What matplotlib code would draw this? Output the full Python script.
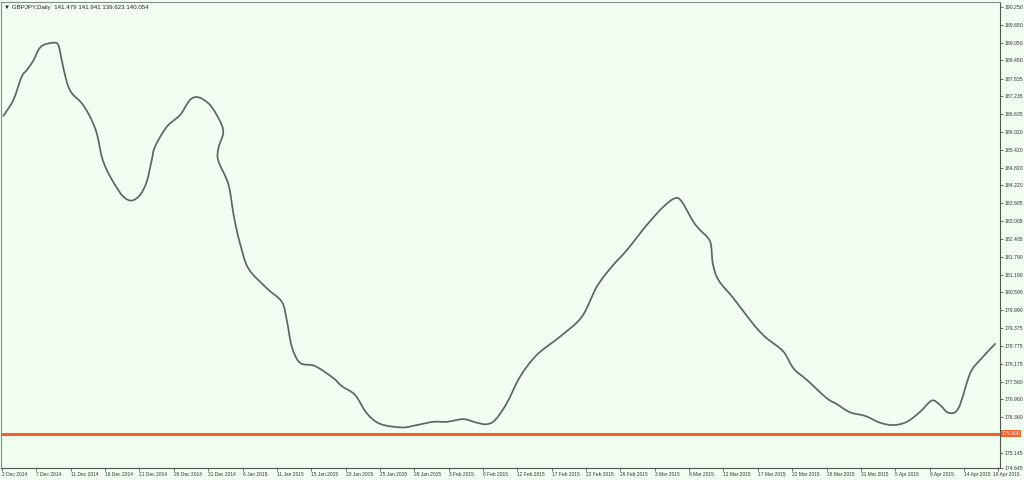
import matplotlib
matplotlib.use("Agg")
import matplotlib.pyplot as plt
from matplotlib.path import Path
from matplotlib.patches import PathPatch
from matplotlib.transforms import ScaledTranslation

# ---- data (bar index, price) ----
bar = [0.15, 1.32, 2.29, 2.88, 3.64, 4.23, 4.81, 5.97, 6.56, 6.95, 7.53, 8.12, 9.28, 10.25,
       11.03, 11.61, 12.19, 13.16, 14.13, 15.10, 16.07, 16.85, 17.43, 17.82, 19.18, 20.73,
       21.89, 22.86, 24.02, 24.80, 25.58, 25.74, 25.19, 25.19, 26.35, 26.93, 27.33, 27.71,
       28.68, 30.82, 32.57, 33.15, 33.74, 34.70, 36.45, 38.58, 39.56, 41.11, 42.47, 44.02,
       46.55, 48.29, 50.23, 51.79, 53.72, 55.28, 56.44, 57.41, 58.77, 60.32, 62.27, 64.98,
       67.51, 69.25, 71.00, 72.75, 75.07, 77.01, 78.37, 79.15, 80.50, 81.28, 82.45, 82.76,
       83.41, 85.16, 87.10, 88.07, 89.05, 90.98, 92.15, 93.71, 96.03, 97.20, 98.75, 100.49,
       102.24, 103.79, 105.35, 106.90, 108.26, 109.22, 110.19, 111.36, 112.72, 113.89, 115.63]
price = [186.57, 187.11, 187.90, 188.12, 188.44, 188.80, 188.97, 189.05, 188.97, 188.46,
         187.73, 187.34, 187.00, 186.54, 185.98, 185.19, 184.74, 184.23, 183.83, 183.70,
         183.89, 184.34, 185.07, 185.53, 186.20, 186.60, 187.11, 187.20, 187.00, 186.70,
         186.26, 185.96, 185.47, 185.04, 184.26, 183.27, 182.70, 182.25, 181.40, 180.73,
         180.27, 179.65, 178.75, 178.20, 178.09, 177.68, 177.41, 177.11, 176.49, 176.13,
         176.01, 176.09, 176.20, 176.20, 176.29, 176.17, 176.12, 176.26, 176.83, 177.73,
         178.47, 179.09, 179.76, 180.78, 181.46, 182.02, 182.87, 183.49, 183.78, 183.66,
         182.98, 182.70, 182.31, 181.57, 181.01, 180.39, 179.65, 179.31, 179.03, 178.58,
         178.01, 177.62, 177.00, 176.80, 176.52, 176.40, 176.17, 176.09, 176.20, 176.54,
         176.92, 176.77, 176.51, 176.66, 177.84, 178.30, 178.84]

level = 175.800
level_label = "175.800"

x_labels = ["2 Dec 2014", "7 Dec 2014", "11 Dec 2014", "16 Dec 2014", "21 Dec 2014",
            "26 Dec 2014", "31 Dec 2014", "6 Jan 2015", "11 Jan 2015", "15 Jan 2015",
            "20 Jan 2015", "25 Jan 2015", "29 Jan 2015", "3 Feb 2015", "8 Feb 2015",
            "12 Feb 2015", "17 Feb 2015", "22 Feb 2015", "26 Feb 2015", "3 Mar 2015",
            "8 Mar 2015", "12 Mar 2015", "17 Mar 2015", "22 Mar 2015", "26 Mar 2015",
            "31 Mar 2015", "5 Apr 2015", "9 Apr 2015", "14 Apr 2015", "19 Apr 2015"]
bars_per_label = 4

y_ticks = [190.250, 189.650, 189.050, 188.450, 187.835, 187.235, 186.635, 186.020,
           185.420, 184.820, 184.220, 183.605, 183.005, 182.405, 181.790, 181.190,
           180.590, 179.990, 179.375, 178.775, 178.175, 177.560, 176.960, 176.360,
           175.145, 174.645]

title = "\u25bc GBPJPY,Daily  141.479 141.941 139.623 140.054"

BG = "#F0FFF0"
LINE = "#5E665E"
ORANGE = "#F5602A"
FONT = ["Liberation Sans", "DejaVu Sans"]
FSX = 3.55
FSY = 3.7

# ---- figure ----
W, H = 1024, 480
fig = plt.figure(figsize=(W / 100, H / 100), dpi=100)
fig.patch.set_facecolor(BG)
ax = fig.add_axes([1 / W, (H - 467.7) / H, 999 / W, (467.7 - 2) / H])
ax.set_facecolor(BG)

# smooth curve through the read points (Catmull-Rom rendered as cubic Bezier path)
pts = list(zip(bar, price))
verts = [pts[0]]
codes = [Path.MOVETO]
n = len(pts)
for i in range(n - 1):
    p0 = pts[i - 1] if i > 0 else pts[i]
    p1 = pts[i]
    p2 = pts[i + 1]
    p3 = pts[i + 2] if i + 2 < n else pts[i + 1]
    c1 = (p1[0] + (p2[0] - p0[0]) / 6, p1[1] + (p2[1] - p0[1]) / 6)
    c2 = (p2[0] - (p3[0] - p1[0]) / 6, p2[1] - (p3[1] - p1[1]) / 6)
    verts += [c1, c2, p2]
    codes += [Path.CURVE4] * 3
ax.add_patch(PathPatch(Path(verts, codes), fill=False, edgecolor=LINE, lw=1.25,
                       joinstyle="round", capstyle="round", zorder=3))
ax.axhline(level, color=ORANGE, lw=2.2, zorder=2)

ax.set_xlim(-0.12, 116.2)
ax.set_ylim(174.645, 190.43)

ax.yaxis.tick_right()
ax.set_yticks(y_ticks)
ax.set_yticklabels([f"{v:.3f}" for v in y_ticks], fontsize=FSY, family=FONT)
ax.tick_params(axis="y", direction="out", length=2.2, width=0.6, pad=0.8, colors="#555555",
               labelcolor="#333333")

xt = [i * bars_per_label for i in range(len(x_labels))]
ax.set_xticks(xt)
ax.set_xticklabels(x_labels, fontsize=FSX, family=FONT, ha="left")
ax.tick_params(axis="x", direction="out", length=2.2, width=0.6, pad=1.2, colors="#555555",
               labelcolor="#333333")
last = ax.get_xticklabels()[-1]
last.set_transform(last.get_transform() + ScaledTranslation(-5 / 100, 0, fig.dpi_scale_trans))

for side in ["left", "top"]:
    ax.spines[side].set_color("#8A8A8A")
    ax.spines[side].set_linewidth(0.8)
for side in ["right", "bottom"]:
    ax.spines[side].set_color("#555555")
    ax.spines[side].set_linewidth(0.8)

ax.text(0.003, 0.994, title, transform=ax.transAxes, fontsize=4.4, family=FONT,
        va="top", ha="left", color="#222222")

ax.annotate(level_label, xy=(1.0, level), xycoords=("axes fraction", "data"),
            xytext=(1.2, 0), textcoords="offset points", fontsize=FSY, family=FONT,
            color="white", va="center", ha="left",
            bbox=dict(boxstyle="square,pad=0.2", fc=ORANGE, ec="none"))

fig.savefig("out.png", dpi=100, facecolor=fig.get_facecolor())
